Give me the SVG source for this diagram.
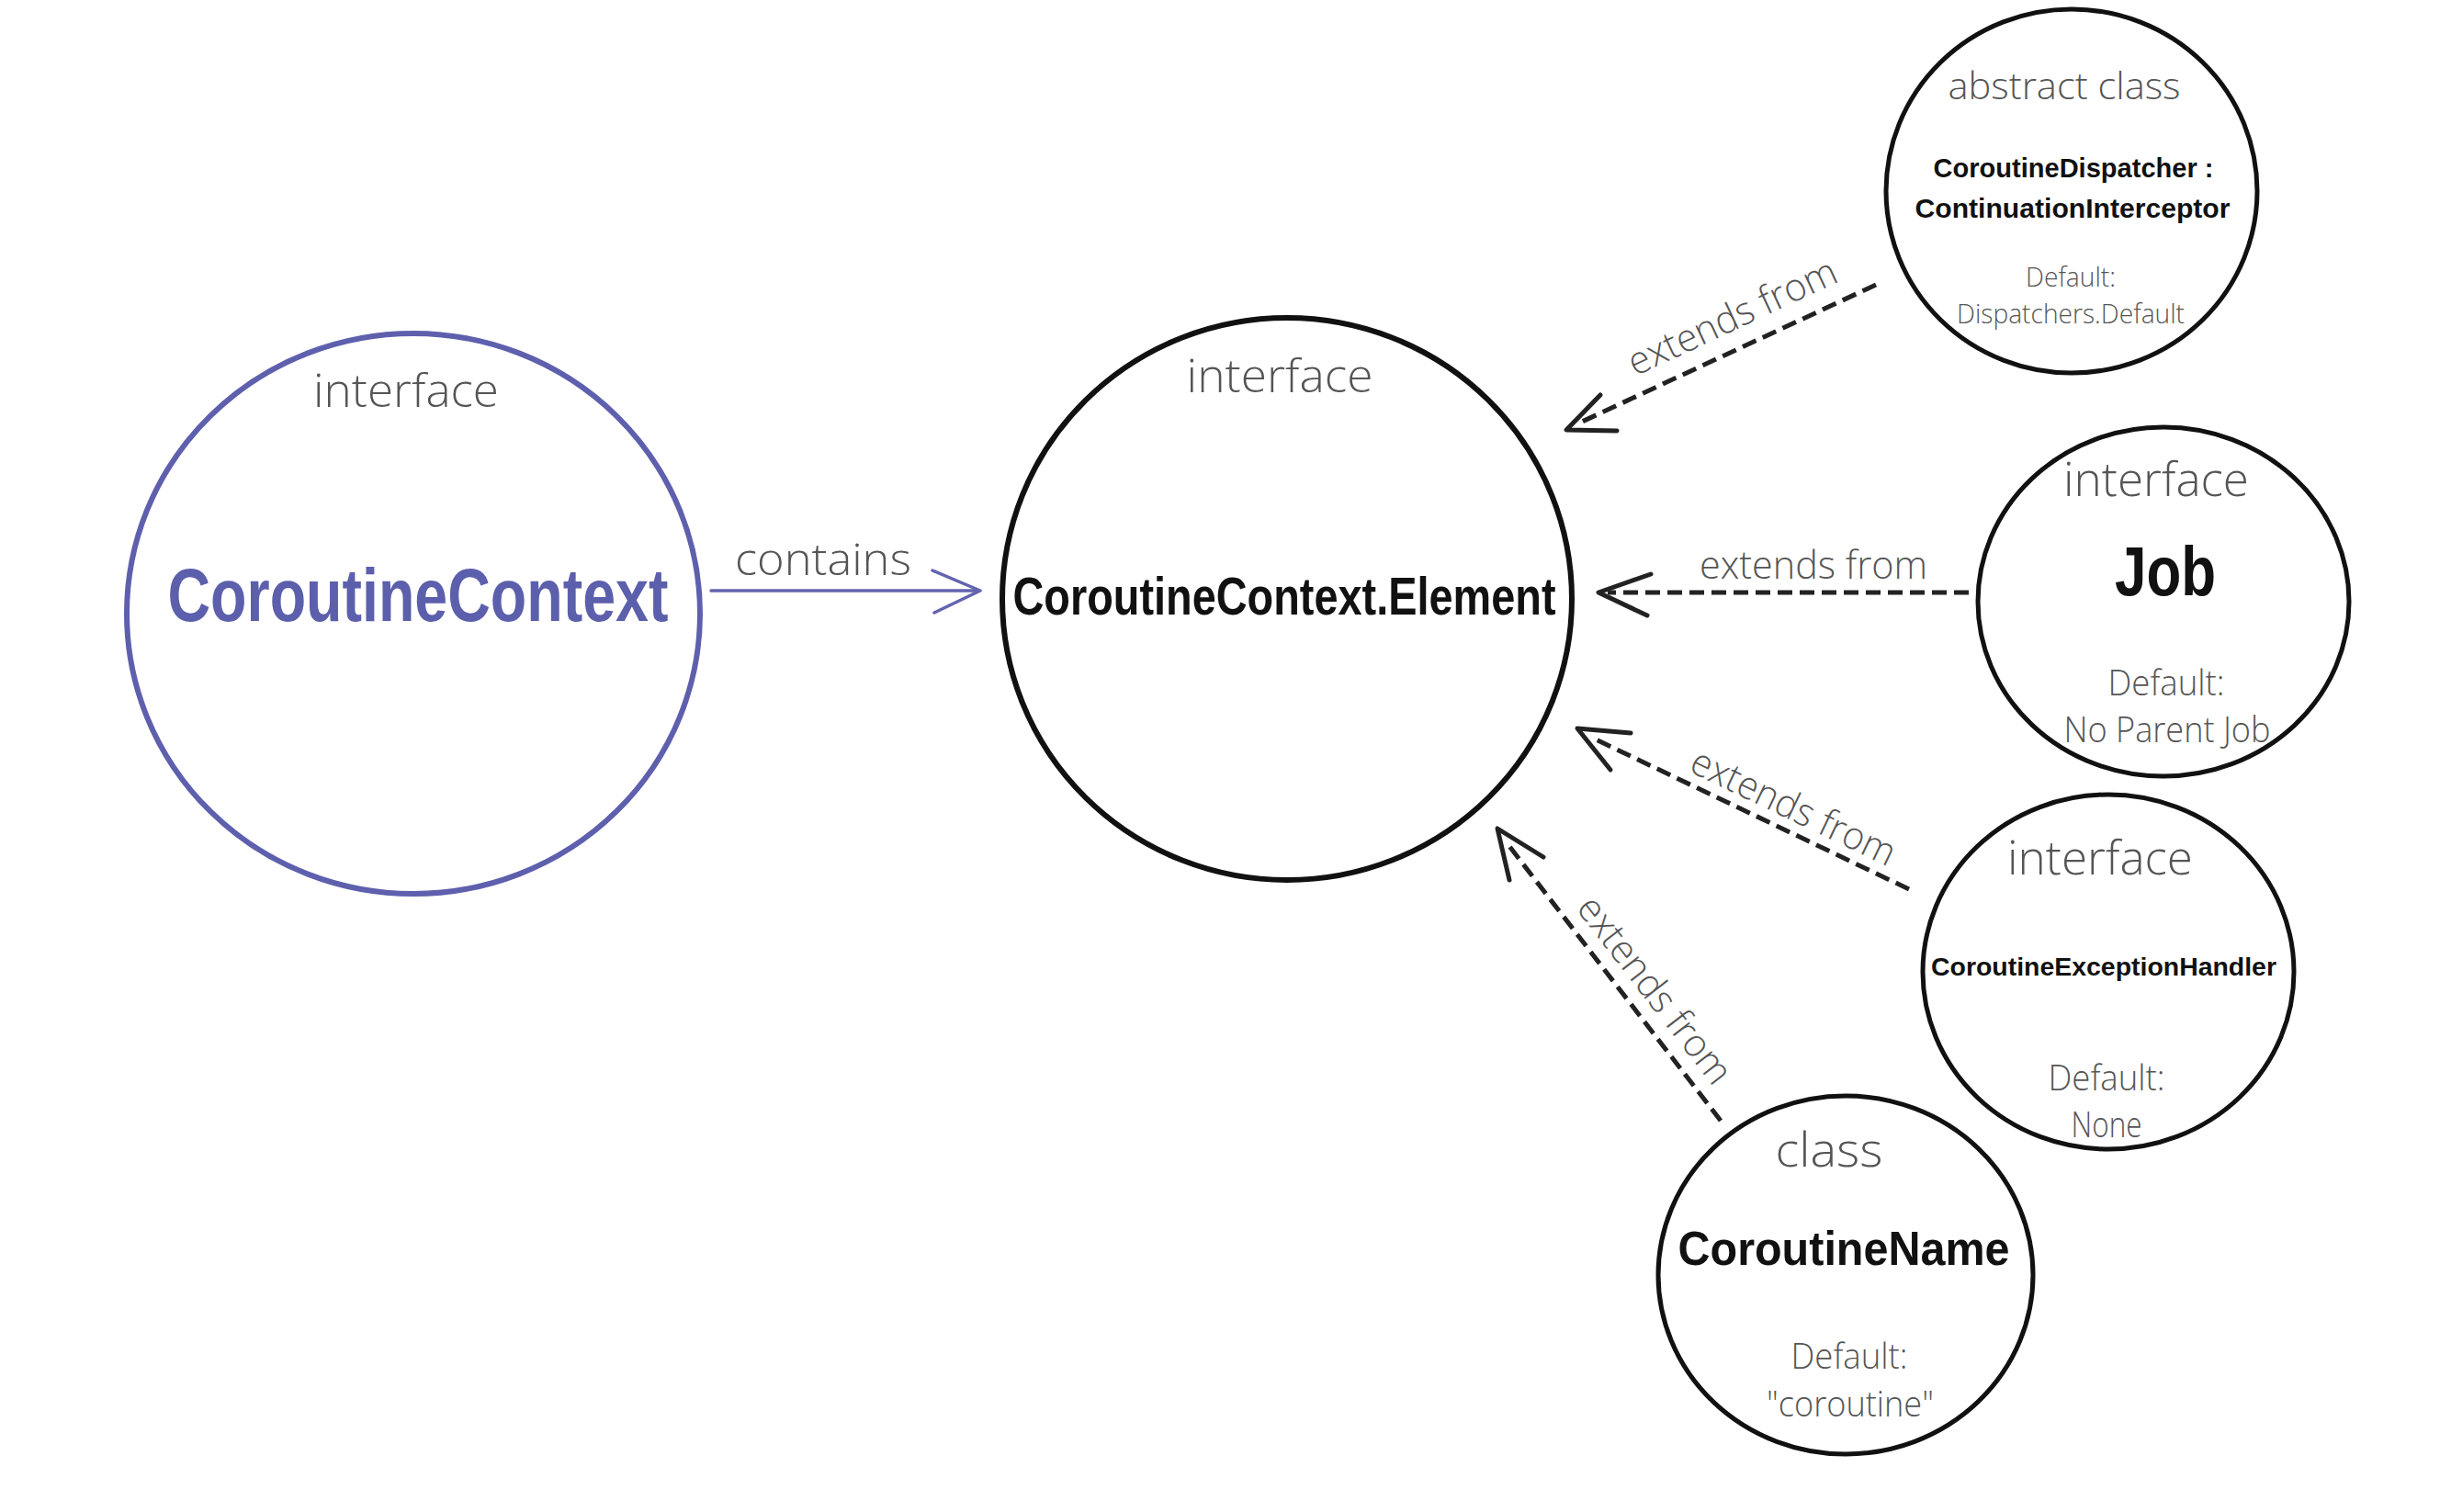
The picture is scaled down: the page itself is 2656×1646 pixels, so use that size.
<svg xmlns="http://www.w3.org/2000/svg" width="2656" height="1646" viewBox="0 0 2656 1646">
<defs>
<style>
.bg{fill:#ffffff}
.node{fill:#ffffff;stroke:#111111;stroke-width:5}
.ctx{fill:#ffffff;stroke:#5e60ad;stroke-width:6}
.thin{font-family:"Open Sans","Lato","Liberation Sans",sans-serif;font-weight:300;fill:#555555;text-anchor:middle}
.bold{font-family:"Liberation Sans","Roboto",sans-serif;font-weight:700;fill:#111111;text-anchor:middle}
.purple{fill:#5c5fab}
.ext{fill:none;stroke:#222222;stroke-width:5;stroke-dasharray:16 8}
.head{fill:none;stroke:#222222;stroke-width:5;stroke-linecap:round;stroke-linejoin:round}
.cont{fill:none;stroke:#6264b0;stroke-width:3.5;stroke-linecap:round;stroke-linejoin:round}
</style>
</defs>
<rect class="bg" x="0" y="0" width="2656" height="1646"/>

<g id="connectors">
  <g id="contains">
    <line class="cont" x1="774" y1="643" x2="1065" y2="643"/>
    <polyline class="cont" points="1015,621 1067,643 1017,667"/>
    <text class="thin" x="896" y="626" font-size="48" textLength="192" lengthAdjust="spacingAndGlyphs">contains</text>
  </g>
  <g id="ext-dispatcher">
    <line class="ext" x1="2042" y1="310" x2="1720" y2="460"/>
    <polyline class="head" points="1742,430 1705,468 1760,469"/>
    <text class="thin" font-size="42" transform="translate(1900,376) rotate(-25)" x="0" y="-20" textLength="246" lengthAdjust="spacingAndGlyphs">extends from</text>
  </g>
  <g id="ext-job">
    <line class="ext" x1="2143" y1="645" x2="1750" y2="645"/>
    <polyline class="head" points="1797,625 1740,645 1793,670"/>
    <text class="thin" x="1974" y="630" font-size="42" textLength="248" lengthAdjust="spacingAndGlyphs">extends from</text>
  </g>
  <g id="ext-handler">
    <line class="ext" x1="2078" y1="968" x2="1735" y2="804"/>
    <polyline class="head" points="1775,798 1717,793 1753,838"/>
    <text class="thin" font-size="42" transform="translate(1940,904) rotate(25.6)" x="0" y="-14" textLength="242" lengthAdjust="spacingAndGlyphs">extends from</text>
  </g>
  <g id="ext-name">
    <line class="ext" x1="1873" y1="1220" x2="1642" y2="920"/>
    <polyline class="head" points="1680,933 1630,902 1643,958"/>
    <text class="thin" font-size="42" transform="translate(1779,1095) rotate(52.3)" x="0" y="-14" textLength="246" lengthAdjust="spacingAndGlyphs">extends from</text>
  </g>
</g>

<g id="node-context">
  <ellipse class="ctx" cx="450" cy="668" rx="312" ry="305"/>
  <text class="thin" x="442" y="443" font-size="50" textLength="202" lengthAdjust="spacingAndGlyphs">interface</text>
  <text class="bold purple" x="455" y="676" font-size="82" textLength="545" lengthAdjust="spacingAndGlyphs">CoroutineContext</text>
</g>

<g id="node-element">
  <ellipse class="node" cx="1401" cy="652" rx="310" ry="306" style="stroke-width:6"/>
  <text class="thin" x="1393" y="427" font-size="50" textLength="203" lengthAdjust="spacingAndGlyphs">interface</text>
  <text class="bold" x="1398" y="669" font-size="58" textLength="591" lengthAdjust="spacingAndGlyphs">CoroutineContext.Element</text>
</g>

<g id="node-dispatcher">
  <ellipse class="node" cx="2255" cy="208" rx="202" ry="198"/>
  <text class="thin" x="2247" y="108" font-size="40" textLength="253" lengthAdjust="spacingAndGlyphs">abstract class</text>
  <text class="bold" x="2257" y="193" font-size="30" textLength="305" lengthAdjust="spacingAndGlyphs">CoroutineDispatcher :</text>
  <text class="bold" x="2256" y="237" font-size="30" textLength="343" lengthAdjust="spacingAndGlyphs">ContinuationInterceptor</text>
  <text class="thin" x="2254" y="312" font-size="30" textLength="98" lengthAdjust="spacingAndGlyphs">Default:</text>
  <text class="thin" x="2254" y="352" font-size="30" textLength="248" lengthAdjust="spacingAndGlyphs">Dispatchers.Default</text>
</g>

<g id="node-job">
  <ellipse class="node" cx="2355" cy="655" rx="202" ry="190"/>
  <text class="thin" x="2347" y="540" font-size="52" textLength="202" lengthAdjust="spacingAndGlyphs">interface</text>
  <text class="bold" x="2357" y="648" font-size="76" textLength="110" lengthAdjust="spacingAndGlyphs">Job</text>
  <text class="thin" x="2358" y="757" font-size="39" textLength="127" lengthAdjust="spacingAndGlyphs">Default:</text>
  <text class="thin" x="2359" y="808" font-size="39" textLength="225" lengthAdjust="spacingAndGlyphs">No Parent Job</text>
</g>

<g id="node-handler">
  <ellipse class="node" cx="2295" cy="1058" rx="202" ry="193"/>
  <text class="thin" x="2286" y="952" font-size="52" textLength="202" lengthAdjust="spacingAndGlyphs">interface</text>
  <text class="bold" x="2290" y="1062" font-size="27" textLength="376" lengthAdjust="spacingAndGlyphs">CoroutineExceptionHandler</text>
  <text class="thin" x="2293" y="1187" font-size="39" textLength="127" lengthAdjust="spacingAndGlyphs">Default:</text>
  <text class="thin" x="2293" y="1238" font-size="39" textLength="77" lengthAdjust="spacingAndGlyphs">None</text>
</g>

<g id="node-name">
  <ellipse class="node" cx="2009" cy="1388" rx="204" ry="195"/>
  <text class="thin" x="1991" y="1270" font-size="52" textLength="117" lengthAdjust="spacingAndGlyphs">class</text>
  <text class="bold" x="2007" y="1377" font-size="52" textLength="361" lengthAdjust="spacingAndGlyphs">CoroutineName</text>
  <text class="thin" x="2013" y="1490" font-size="39" textLength="127" lengthAdjust="spacingAndGlyphs">Default:</text>
  <text class="thin" x="2014" y="1542" font-size="39" textLength="182" lengthAdjust="spacingAndGlyphs">"coroutine"</text>
</g>
</svg>
